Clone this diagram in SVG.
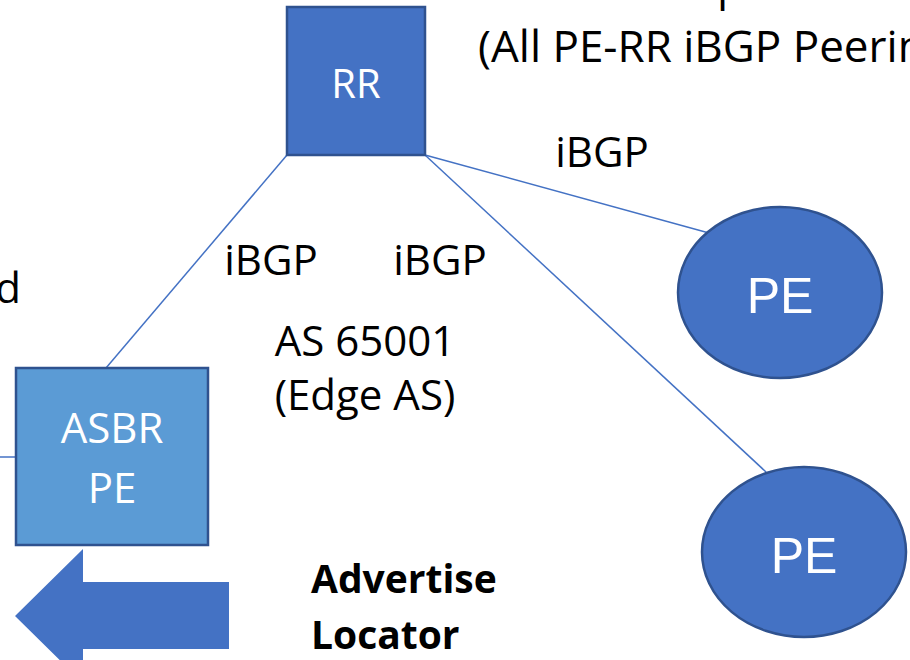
<svg xmlns="http://www.w3.org/2000/svg" width="910" height="660" viewBox="0 0 910 660">
  <style>
    .box { fill: #4472C4; stroke: #2F528F; stroke-width: 2.5; }
    .box-light { fill: #5B9BD5; stroke: #2F528F; stroke-width: 2.5; }
    .link { stroke: #4472C4; stroke-width: 1.5; fill: none; }
    .lbl { font-family: "Open Sans", "Liberation Sans", sans-serif; font-size: 42px; fill: #000; }
    .lbl-top { font-size: 44px; }
    .bold { font-family: "Open Sans", "Liberation Sans", sans-serif; font-size: 39px; font-weight: bold; fill: #000; }
    .node-txt { font-family: "Open Sans", "Liberation Sans", sans-serif; fill: #fff; text-anchor: middle; }
    .pe-txt { font-family: "Liberation Sans", Arial, sans-serif; font-size: 50px; fill: #fff; text-anchor: middle; }
  </style>
  <rect width="910" height="660" fill="#fff"/>

  <!-- peering links -->
  <g id="connectors">
    <line class="link" x1="287" y1="155" x2="106" y2="368"/>
    <line class="link" x1="425" y1="155" x2="709" y2="233"/>
    <line class="link" x1="425" y1="155" x2="766" y2="472"/>
    <line class="link" x1="0" y1="457" x2="16" y2="457"/>
  </g>

  <!-- free-standing labels -->
  <text class="lbl lbl-top" x="717" y="0">p</text>
  <text class="lbl lbl-top" x="478" y="62">(All PE-RR iBGP Peering)</text>
  <text class="lbl" x="21" y="303" text-anchor="end">d</text>
  <text class="lbl" x="602" y="167" text-anchor="middle">iBGP</text>
  <text class="lbl" x="271" y="275" text-anchor="middle">iBGP</text>
  <text class="lbl" x="440" y="275" text-anchor="middle">iBGP</text>
  <text class="lbl" x="365" y="356" text-anchor="middle">AS 65001</text>
  <text class="lbl" x="365" y="410" text-anchor="middle">(Edge AS)</text>
  <text class="bold" x="311" y="593">Advertise</text>
  <text class="bold" x="311" y="649">Locator</text>

  <g id="rr">
    <rect class="box" x="287" y="7" width="138" height="148"/>
    <text class="node-txt" x="356" y="98" font-size="40">RR</text>
  </g>

  <g id="asbr-pe">
    <rect class="box-light" x="16" y="368" width="192" height="177"/>
    <text class="node-txt" x="112" y="443" font-size="42">ASBR</text>
    <text class="node-txt" x="112" y="503" font-size="42">PE</text>
  </g>

  <g id="pe-1">
    <ellipse class="box" cx="780" cy="292.5" rx="102" ry="85.5"/>
    <text class="pe-txt" x="780" y="313">PE</text>
  </g>

  <g id="pe-2">
    <ellipse class="box" cx="804" cy="552" rx="102" ry="85"/>
    <text class="pe-txt" x="804" y="573">PE</text>
  </g>

  <g id="advertise-arrow">
    <polygon fill="#4472C4" points="15,616 83,549 83,582 229,582 229,649 83,649 83,683"/>
  </g>
</svg>
